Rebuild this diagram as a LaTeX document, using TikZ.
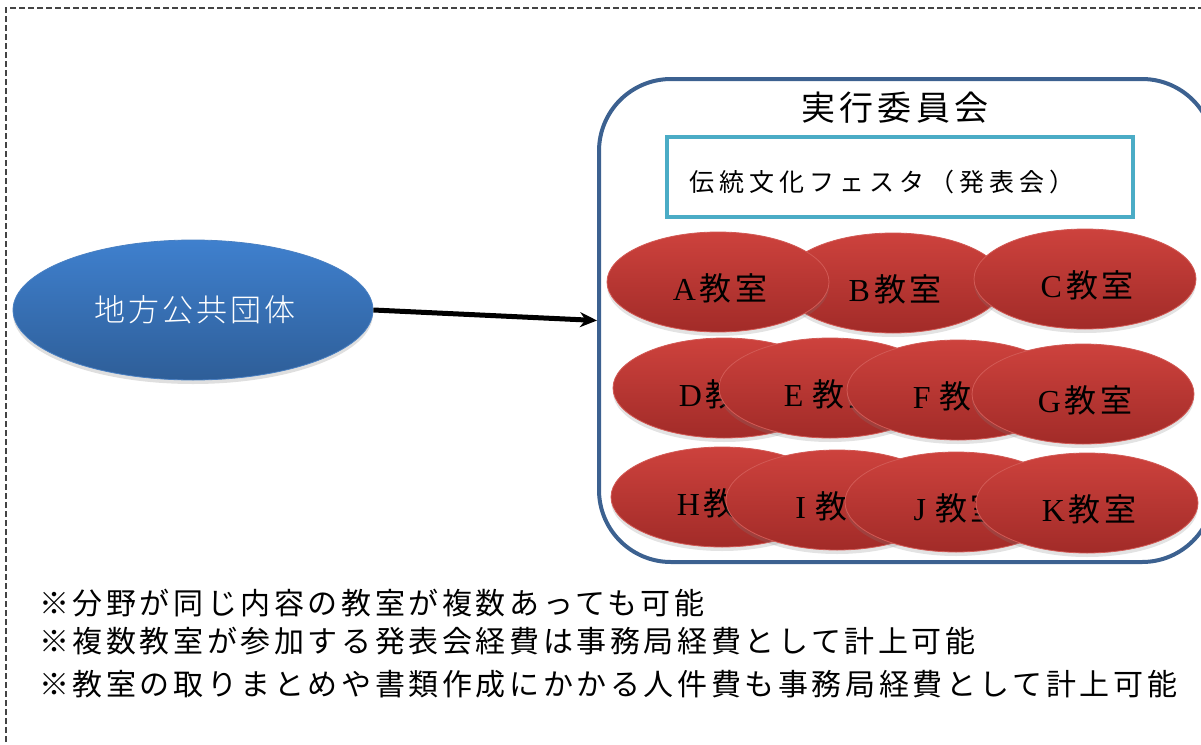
\documentclass[tikz,border=0pt]{standalone}
\usepackage{fontspec}
\usetikzlibrary{shapes.geometric,arrows.meta,shadows}
\newfontfamily\jpnote[LetterSpace=12]{Noto Sans CJK JP}
\newfontfamily\jptitle[LetterSpace=12]{Noto Sans CJK JP}
\newfontfamily\jpfest[LetterSpace=20]{Noto Sans CJK JP}
\newfontfamily\jpgov[LetterSpace=10]{Noto Sans CJK JP Light}
\newfontfamily\jpcls[LetterSpace=10]{Noto Sans CJK JP}
\newfontfamily\latcls{Liberation Serif}
\definecolor{dashgray}{HTML}{444444}
\definecolor{frameblue}{HTML}{3C6190}
\definecolor{festcyan}{HTML}{4BACC6}
\definecolor{govtop}{HTML}{3F80CE}
\definecolor{govbot}{HTML}{2E5E98}
\definecolor{govline}{HTML}{4A80C2}
\definecolor{redtop}{HTML}{CD423D}
\definecolor{redbot}{HTML}{A22B28}
\definecolor{redline}{HTML}{D25A55}
\tikzset{
  outerdash/.style={draw=dashgray, line width=1.4pt, dash pattern=on 6pt off 3pt},
  govell/.style={ellipse, minimum width=360pt, minimum height=140pt, inner sep=0pt,
    top color=govtop, bottom color=govbot, draw=govline, line width=0.8pt,
    drop shadow={opacity=0.25, shadow xshift=0pt, shadow yshift=-4pt}},
  redell/.style={ellipse, minimum width=222pt, minimum height=100pt, inner sep=0pt,
    top color=redtop, bottom color=redbot, draw=redline, line width=0.8pt,
    drop shadow={opacity=0.22, shadow xshift=0pt, shadow yshift=-4pt}},
  clslbl/.style={inner sep=0pt, text=black, font=\fontsize{32}{38}\selectfont},
  notetxt/.style={anchor=west, inner sep=0pt, font=\jpnote\fontsize{30}{36}\selectfont},
  flowarrow/.style={-{Stealth[length=17pt,width=15pt]}, line width=5pt, black},
}
\newcommand{\cls}[2]{{\latcls #1}\hspace{4pt}{\jpcls #2}}
\newcommand{\classroom}[5]{%
  \node[redell] (#1) at (#2,#3) {};
  \node[clslbl] (#1-t) at ([yshift=-6pt,xshift=2pt]#1.center) {#4};
}
\begin{document}
\begin{tikzpicture}[x=1pt,y=-1pt]
\useasboundingbox (0,0) rectangle (1201,744);
\clip (0,0) rectangle (1201,744);
% outer dashed frame
\coordinate (fb) at (6,760);
\coordinate (fc) at (6,8);
\coordinate (fr) at (1220,8);
\draw[outerdash] (fb) -- (fc) -- (fr);

% government ellipse
\node[govell] (gov) at (193,310) {};
\node[inner sep=0pt, text=white, font=\jpgov\fontsize{31}{36}\selectfont] (govt) at (195,310) {地方公共団体};

% committee frame
\node[draw=frameblue, line width=4pt, rounded corners=72pt, minimum width=615pt,
  minimum height=483pt, inner sep=0pt, anchor=north west] (committee) at (597,77) {};
\node[inner sep=0pt, font=\jptitle\fontsize{34}{40}\selectfont] (title) at (895,108) {実行委員会};

% festa box
\node[draw=festcyan, line width=3.5pt, minimum width=466pt, minimum height=80pt,
  inner sep=0pt, anchor=north west] (fest) at (665,135) {};
\node[anchor=west, inner sep=0pt, font=\jpfest\fontsize{25}{30}\selectfont] (festt) at (689,182) {伝統文化フェスタ（発表会）};

% row 1
\classroom{B}{893}{283}{\cls{B}{教室}}{}
\classroom{A}{718}{282}{\cls{A}{教室}}{}
\classroom{C}{1085}{279}{\cls{C}{教室}}{}
% row 2
\classroom{D}{724}{388}{\cls{D}{教室}}{}
\classroom{E}{830}{388}{\cls{E\,}{教室}}{}
\classroom{F}{958}{390}{\cls{F\,}{教室}}{}
\classroom{G}{1083}{394}{\cls{G}{教室}}{}
% row 3
\classroom{H}{722}{497}{\cls{H}{教室}}{}
\classroom{I}{837}{500}{\cls{I\,}{教室}}{}
\classroom{J}{956}{502}{\cls{J\,}{教室}}{}
\classroom{K}{1087}{503}{\cls{K}{教室}}{}

% arrow
\draw[flowarrow] (gov.east) -- (committee.west);

% notes
\node[notetxt] (n1) at (39,603) {※分野が同じ内容の教室が複数あっても可能};
\node[notetxt] (n2) at (39,641) {※複数教室が参加する発表会経費は事務局経費として計上可能};
\node[notetxt] (n3) at (39,684) {※教室の取りまとめや書類作成にかかる人件費も事務局経費として計上可能};
\end{tikzpicture}
\end{document}
